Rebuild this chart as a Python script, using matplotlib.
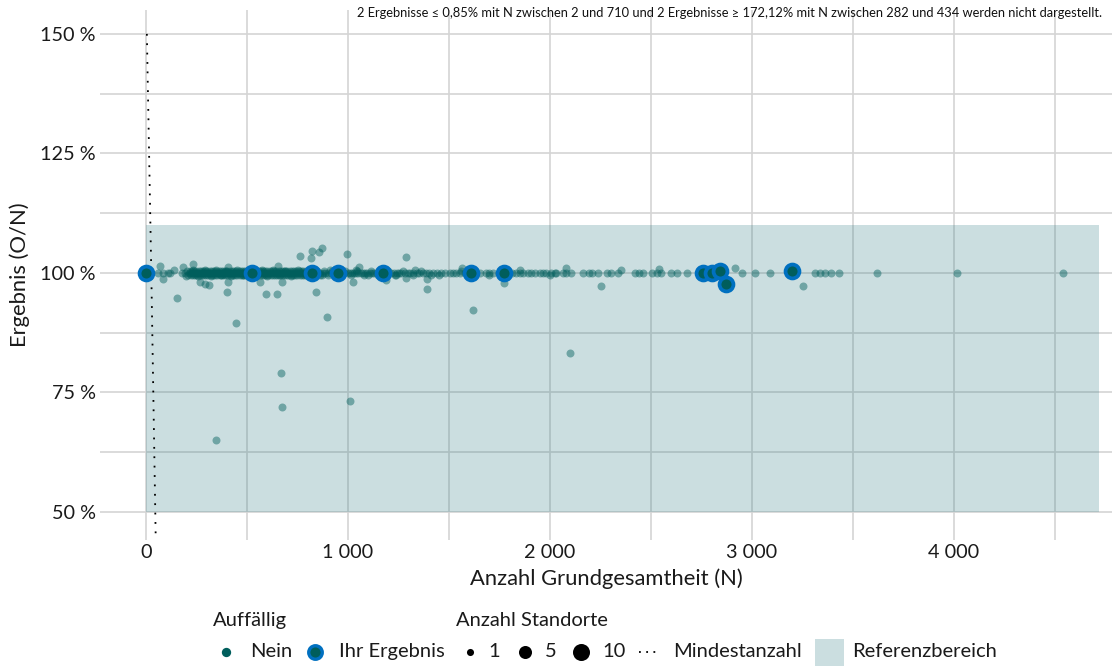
import numpy as np
import matplotlib.pyplot as plt
from matplotlib.patches import Rectangle
from matplotlib.lines import Line2D

plt.rcParams['font.family'] = ['Lato', 'DejaVu Sans']

# Ergebnisse "Nein" genau auf 100 %
n_100 = [59, 84, 109, 120, 176, 193, 212, 218, 226, 232, 238, 245, 251, 258, 263, 270, 276,
         281, 288, 294, 300, 305, 312, 318, 323, 330, 336, 342, 349, 355, 361, 368, 374, 380,
         386, 392, 398, 404, 411, 417, 423, 430, 436, 442, 448, 455, 461, 468, 474, 480, 487,
         493, 500, 507, 514, 520, 528, 535, 541, 548, 555, 561, 568, 575, 582, 589, 596, 603,
         610, 617, 624, 632, 639, 646, 653, 660, 668, 675, 682, 690, 697, 704, 712, 720, 728,
         736, 744, 752, 760, 768, 777, 786, 795, 805, 815, 826, 838, 850, 862, 875, 888, 902,
         916, 930, 947, 965, 982, 1000, 1010, 1020, 1030, 1040, 1050, 1062, 1075, 1085, 1095,
         1108, 1120, 1130, 1141, 1152, 1165, 1180, 1195, 1215, 1228, 1240, 1252, 1264, 1280,
         1295, 1306, 1320, 1339, 1350, 1371, 1385, 1400, 1421, 1440, 1462, 1480, 1503, 1520,
         1535, 1553, 1580, 1600, 1630, 1652, 1685, 1700, 1718, 1745, 1790, 1810, 1833, 1850,
         1866, 1890, 1907, 1925, 1949, 1965, 1982, 2007, 2023, 2030, 2064, 2078, 2104, 2161,
         2193, 2210, 2237, 2281, 2300, 2335, 2423, 2441, 2462, 2503, 2529, 2547, 2600, 2627,
         2680, 2950, 3017, 3088, 3310, 3336, 3363, 3390, 3430, 3620, 4015, 4538]

# Ergebnisse "Nein" knapp ueber 100 % (dichter Bereich)
n_nah_hi = [205, 216, 227, 238, 249, 260, 271, 282, 293, 304, 315, 326, 337, 348, 359, 370,
            381, 392, 403, 414, 425, 436, 447, 458, 469, 480, 491, 502, 513, 524, 535, 546,
            557, 568, 579, 590, 601, 612, 623, 634, 645, 656, 667, 678, 689, 700, 711, 722,
            733, 744, 755, 766, 777, 790, 805, 822, 845, 880, 920, 985, 1045, 1115, 1200,
            1270, 1360]
r_nah_hi = [100.4] * len(n_nah_hi)
# Ergebnisse "Nein" knapp unter 100 % (dichter Bereich)
n_nah_lo = [210, 221, 232, 243, 254, 265, 276, 287, 298, 309, 320, 331, 342, 353, 364, 375,
            386, 397, 408, 419, 430, 441, 452, 463, 474, 485, 496, 507, 518, 529, 540, 551,
            562, 573, 584, 595, 606, 617, 628, 639, 650, 661, 672, 683, 694, 705, 716, 727,
            738, 749, 760, 771, 783, 798, 812, 830, 860, 900, 950, 1015, 1080, 1150, 1235,
            1320, 1410]
r_nah_lo = [99.6] * len(n_nah_lo)

# Ergebnisse "Nein" knapp neben 100 % und Ausreisser (N, Ergebnis in %)
n_other = [140, 200, 230, 255, 290, 320, 345, 370, 395, 420, 450, 480, 510, 545, 575, 600,
           630, 660, 690, 720, 750, 790, 830, 870, 910, 960, 1040, 1100, 1160, 1230, 1330,
           1450, 1560, 1700, 1850, 2000,
           69, 84, 155, 183, 232, 267, 292, 312, 346, 401, 405, 405, 445, 564, 593, 648, 653,
           668, 673, 673, 762, 816, 821, 856, 870, 841, 895, 994, 1009, 1024, 1053, 1190,
           1286, 1289, 1391, 1391, 1566, 1619, 1772, 2080, 2097, 2250, 2353, 2539, 2917, 3254]
r_other = [100.6, 99.4, 100.7, 99.3, 100.5, 99.4, 100.6, 99.5, 100.4, 99.3, 100.6, 99.5,
           100.5, 99.4, 100.6, 99.3, 100.5, 99.5, 100.4, 99.4, 100.5, 99.5, 100.4, 99.6,
           100.5, 99.4, 100.5, 99.5, 100.4, 99.6, 100.5, 99.5, 100.4, 99.6, 100.5, 99.5,
           101.5, 98.7, 94.8, 101.3, 101.9, 98.1, 97.7, 97.5, 65.1, 96.0, 101.3, 98.1, 89.6,
           98.1, 95.6, 95.6, 101.5, 79.1, 98.1, 72.0, 103.6, 103.1, 104.6, 104.4, 105.2, 96.0,
           90.8, 104.0, 73.2, 98.1, 101.3, 98.4, 98.9, 103.4, 98.7, 96.7, 101.0, 92.3, 97.8,
           101.0, 83.3, 97.3, 100.6, 100.8, 101.0, 97.2]

# "Ihr Ergebnis"
n_ihr = [2, 524, 821, 950, 1174, 1607, 1772, 2757, 2801, 2839, 2872, 3198]
r_ihr = [100, 100, 100, 100, 100, 100, 100, 100, 100, 100.3, 97.6, 100.4]

# Mindestanzahl (Kurve)
mind_n = [4, 26, 48]
mind_r = [150, 100, 44]

ref_low, ref_high = 50, 110
ref_n_max = 4718

note = ("2 Ergebnisse \u2264 0,85% mit N zwischen 2 und 710 und 2 Ergebnisse \u2265 172,12% "
        "mit N zwischen 282 und 434 werden nicht dargestellt.")

teal = '#005e5c'
blue = '#0070c0'
ink = '#1a1a1a'

fig = plt.figure(figsize=(11.12, 6.66), dpi=100)
ax = fig.add_axes([100 / 1112, 1 - 540 / 666, 1012 / 1112, 530 / 666])

ax.set_xlim(-228, 4782)
ax.set_ylim(44.1, 155)
ax.set_xticks([0, 1000, 2000, 3000, 4000])
ax.set_xticklabels(['0', '1 000', '2 000', '3 000', '4 000'])
ax.set_xticks(np.arange(500, 4600, 1000), minor=True)
ax.set_yticks([50, 75, 100, 125, 150])
ax.set_yticklabels(['50 %', '75 %', '100 %', '125 %', '150 %'])
ax.set_yticks([62.5, 87.5, 112.5, 137.5], minor=True)
ax.grid(True, which='both', color='#d4d4d4', linewidth=1.2, zorder=0)
ax.set_axisbelow(True)
ax.tick_params(which='both', length=0, labelsize=14.3, colors=ink)
ax.tick_params(axis='y', pad=3)
ax.tick_params(axis='x', pad=3)
for s in ax.spines.values():
    s.set_visible(False)

ax.add_patch(Rectangle((0, ref_low), ref_n_max, ref_high - ref_low,
                       facecolor='#3f858d', alpha=0.27, edgecolor='none', zorder=1))

ax.plot(mind_n, mind_r, color='black', linestyle=(0, (1, 4.2)), linewidth=1.3, zorder=2)

pt = dict(s=33, color=teal, alpha=0.45, linewidths=0, zorder=3)
ax.scatter(n_100, [100] * len(n_100), **pt)
ax.scatter(n_nah_hi, r_nah_hi, **pt)
ax.scatter(n_nah_lo, r_nah_lo, **pt)
ax.scatter(n_other, r_other, **pt)
ax.scatter(n_ihr, r_ihr, s=100, facecolor=teal, edgecolor=blue, linewidths=2.7, zorder=4)

ax.set_xlabel('Anzahl Grundgesamtheit (N)', fontsize=15.8, color=ink, labelpad=5)
ax.set_ylabel('Ergebnis (O/N)', fontsize=15.8, color=ink, labelpad=7)

fig.text(1102 / 1112, 1 - 13 / 666, note, ha='right', va='center', fontsize=9.3,
         color='#111111')

# Legende unten
lg = fig.add_axes([0, 0, 1, 0.1])
lg.set_xlim(0, 1112)
lg.set_ylim(666, 600)
lg.axis('off')
txt = dict(fontsize=14.5, color=ink, va='center')
lg.text(213, 621, 'Auff\u00e4llig', **txt)
lg.text(456, 621, 'Anzahl Standorte', **txt)
yi = 652
lg.scatter([226], [yi], s=45, color=teal, linewidths=0)
lg.text(250, yi, 'Nein', **txt)
lg.scatter([315], [yi], s=95, facecolor=teal, edgecolor=blue, linewidths=2.4)
lg.text(339, yi, 'Ihr Ergebnis', **txt)
lg.scatter([470], [yi], s=26, color='black', linewidths=0)
lg.text(488, yi, '1', **txt)
lg.scatter([525], [yi], s=88, color='black', linewidths=0)
lg.text(545, yi, '5', **txt)
lg.scatter([581], [yi], s=150, color='black', linewidths=0)
lg.text(602, yi, '10', **txt)
lg.add_line(Line2D([639, 658], [yi, yi], color='black', linestyle=(0, (1, 3)), linewidth=1.3))
lg.text(673, yi, 'Mindestanzahl', **txt)
lg.add_patch(Rectangle((815, 639), 29, 27, facecolor='#cbdee0', edgecolor='none'))
lg.text(852, yi, 'Referenzbereich', **txt)

fig.savefig('out.png', dpi=100)
